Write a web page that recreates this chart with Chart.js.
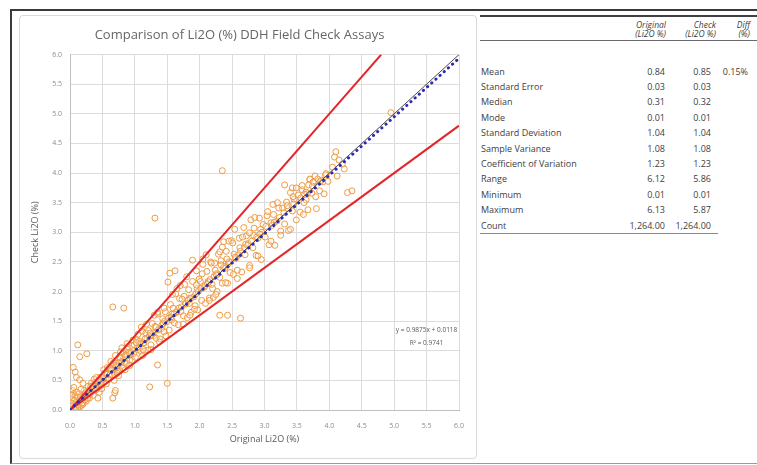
<!DOCTYPE html>
<html>
<head>
<meta charset="utf-8">
<title>Li2O DDH Field Check Assays</title>
<script src="https://cdn.jsdelivr.net/npm/chart.js@4.4.1/dist/chart.umd.min.js"></script>
<style>
  body { margin: 0; width: 757px; height: 465px; background: #fff; position: relative; overflow: hidden; font-family: "Open Sans", "Liberation Sans", Arial, sans-serif; color: #404040; }
  #frame { position: absolute; left: 10px; top: 9px; width: 747px; height: 452px; border-top: 2px solid #3a3a3a; border-left: 2px solid #3a3a3a; border-bottom: 1px solid #9a9a9a; }
  #chartBox { position: absolute; left: 19px; top: 15px; width: 456px; height: 442px; border: 1px solid #d9d9d9; border-radius: 4px; background: #fff; }
  .hline { position: absolute; }
  .cell { position: absolute; white-space: nowrap; font-size: 9px; }
  .head { position: absolute; white-space: nowrap; font-size: 8.5px; font-style: italic; line-height: 9px; text-align: right; }
</style>
</head>
<body>
<div id="frame"></div>
<div id="chartBox"><canvas id="assayChart"></canvas></div>

<script>
// scatter values (Original vs Check, Li2O %)
const originalLi2O = [
  0.01,0.02,0.02,0.03,0.04,0.05,0.05,0.06,0.07,0.08,
  0.09,0.10,0.11,0.11,0.12,0.13,0.14,0.15,0.16,0.17,
  0.18,0.19,0.20,0.21,0.22,0.23,0.24,0.25,0.26,0.27,
  0.28,0.29,0.30,0.03,0.05,0.04,0.08,0.10,0.07,0.12,
  0.06,0.02,0.15,0.18,0.12,0.20,0.22,0.25,0.14,0.28,
  0.30,0.17,0.12,0.15,0.26,0.08,0.05,0.10,0.15,0.20,
  0.01,0.03,0.06,0.09,0.13,0.16,0.19,0.23,0.27,0.02,
  0.31,0.32,0.34,0.35,0.36,0.38,0.39,0.40,0.42,0.43,
  0.44,0.46,0.47,0.48,0.50,0.51,0.53,0.54,0.55,0.57,
  0.58,0.59,0.60,0.33,0.37,0.41,0.45,0.49,0.52,0.56,
  0.58,0.36,0.43,0.69,0.66,0.70,0.32,0.46,0.51,0.40,
  0.45,0.52,0.57,0.62,0.67,0.73,0.82,0.91,0.35,0.48,
  0.61,0.62,0.64,0.65,0.66,0.68,0.69,0.71,0.72,0.74,
  0.75,0.77,0.78,0.80,0.81,0.83,0.84,0.86,0.87,0.89,
  0.90,0.92,0.93,0.95,0.96,0.98,0.99,0.63,0.70,0.75,
  0.80,0.85,0.88,0.92,0.97,0.68,0.78,0.66,0.83,0.73,
  0.62,0.79,0.85,0.94,0.71,0.88,0.64,0.76,
  1.01,1.03,1.05,1.07,1.09,1.11,1.13,1.15,1.17,1.19,
  1.21,1.23,1.25,1.27,1.29,1.31,1.33,1.35,1.37,1.39,
  1.41,1.43,1.45,1.47,1.49,1.05,1.12,1.18,1.25,1.30,
  1.38,1.45,1.48,1.10,1.35,1.23,1.35,1.20,1.50,1.31,
  1.04,1.14,1.22,1.28,1.36,1.42,1.08,1.26,1.44,1.16,
  1.02,1.13,1.24,1.33,1.46,1.57,1.68,1.76,1.84,1.96,
  1.52,1.53,1.55,1.57,1.59,1.61,1.63,1.65,1.67,1.69,
  1.71,1.73,1.75,1.77,1.79,1.81,1.83,1.85,1.87,1.89,
  1.91,1.93,1.95,1.97,1.99,1.54,1.62,1.51,1.58,1.70,
  1.89,1.75,1.85,1.95,1.65,1.80,1.92,1.56,1.64,1.72,
  1.78,1.86,1.94,1.60,1.82,1.98,
  2.01,2.03,2.05,2.07,2.09,2.11,2.13,2.15,2.17,2.19,
  2.21,2.23,2.25,2.27,2.29,2.31,2.33,2.35,2.37,2.39,
  2.41,2.43,2.45,2.47,2.49,2.18,2.31,2.05,2.10,2.25,
  2.40,2.15,2.45,2.35,2.20,2.31,2.43,2.63,2.35,2.08,
  2.14,2.22,2.28,2.36,2.44,2.12,2.26,2.38,2.02,2.46,
  2.04,2.16,2.24,2.33,2.42,2.53,2.62,2.71,2.83,2.94,
  2.52,2.54,2.56,2.58,2.61,2.63,2.65,2.68,2.70,2.72,
  2.75,2.77,2.79,2.82,2.84,2.87,2.90,2.92,2.95,2.98,
  2.51,2.66,2.77,2.69,2.77,2.58,2.90,2.85,2.60,2.74,
  2.80,2.88,2.96,2.55,2.93,
  3.01,3.04,3.07,3.10,3.13,3.16,3.19,3.22,3.25,3.28,
  3.31,3.34,3.37,3.40,3.43,3.46,3.49,3.31,3.43,3.49,
  3.10,3.25,3.40,3.20,3.05,3.15,3.30,3.45,3.12,3.36,
  3.02,3.14,3.23,3.35,3.44,3.58,3.68,3.78,3.90,3.64,
  3.52,3.55,3.58,3.61,3.64,3.67,3.70,3.73,3.76,3.79,
  3.82,3.85,3.88,3.92,3.95,3.98,3.70,3.75,3.60,3.80,
  3.56,3.66,3.74,3.86,3.94,3.62,
  4.10,4.08,4.15,4.23,4.28,4.05,4.12,4.20,4.35,4.95
];
const checkLi2O = [
  0.02,0.01,0.04,0.03,0.06,0.03,0.08,0.05,0.10,0.06,
  0.12,0.08,0.14,0.10,0.17,0.11,0.13,0.19,0.12,0.20,
  0.15,0.23,0.17,0.26,0.19,0.21,0.28,0.22,0.30,0.24,
  0.33,0.25,0.34,0.20,0.27,0.33,0.24,0.30,0.16,0.22,
  0.38,0.12,0.05,0.08,0.04,0.10,0.33,0.15,0.28,0.40,
  0.20,0.35,1.10,0.90,0.95,0.64,0.72,0.55,0.51,0.45,
  0.00,0.07,0.02,0.04,0.08,0.22,0.12,0.17,0.20,0.25,
  0.32,0.28,0.39,0.34,0.39,0.35,0.47,0.40,0.36,0.48,
  0.40,0.55,0.47,0.41,0.56,0.52,0.47,0.62,0.53,0.62,
  0.54,0.69,0.52,0.45,0.52,0.55,0.30,0.36,0.68,0.44,
  0.72,0.25,0.20,0.29,0.20,0.33,0.40,0.47,0.54,0.34,
  0.50,0.58,0.60,0.70,0.64,0.80,0.86,0.96,0.41,0.44,
  0.70,0.60,0.69,0.59,0.79,0.68,0.59,0.79,0.73,0.65,
  0.75,0.66,0.87,0.82,0.71,0.95,0.81,0.93,0.79,1.07,
  0.97,0.84,0.95,1.09,0.84,0.95,1.10,0.82,0.92,0.58,
  1.05,0.68,1.12,0.75,1.18,0.50,0.98,1.74,1.72,0.62,
  0.71,0.80,0.90,0.97,0.75,0.92,0.67,0.79,
  0.89,1.18,1.02,1.16,0.99,1.33,1.13,0.99,1.30,1.21,
  1.34,1.25,1.10,1.46,1.25,1.41,1.21,1.62,1.37,1.20,
  1.37,1.54,1.32,1.66,1.49,1.28,0.92,1.45,1.02,1.60,
  1.15,1.72,1.25,1.40,1.65,0.39,0.76,1.01,0.45,3.24,
  1.05,1.13,1.24,1.30,1.35,1.44,1.12,1.27,1.46,1.20,
  1.14,1.02,1.30,1.40,1.50,1.62,1.72,1.92,1.80,2.05,
  1.55,1.35,1.78,1.52,1.72,1.47,1.96,1.65,1.44,1.88,
  1.66,1.87,1.59,2.12,1.79,1.56,2.03,1.89,1.65,2.17,
  1.91,1.76,2.11,1.69,2.21,2.31,2.35,2.16,1.95,2.10,
  2.53,1.45,1.60,2.35,2.05,2.25,1.70,1.57,1.66,1.74,
  1.80,1.88,1.96,1.62,1.85,2.00,
  2.17,1.85,2.46,2.07,1.80,2.34,2.17,1.89,2.50,2.12,
  1.90,2.48,2.30,2.00,2.63,2.24,2.52,2.14,2.84,2.39,
  2.68,2.14,2.50,2.32,2.86,2.48,2.67,2.55,2.62,1.95,
  2.15,1.85,2.85,2.75,2.05,1.60,1.60,1.55,4.04,2.10,
  2.16,2.25,2.30,2.40,2.47,2.13,2.28,2.42,2.05,2.50,
  2.30,2.20,2.36,2.45,2.55,2.63,2.74,2.80,2.95,3.05,
  2.29,3.05,2.56,2.22,2.90,2.68,2.33,3.08,2.62,2.94,
  2.81,2.44,3.21,2.74,3.07,2.61,2.90,3.24,2.54,3.13,
  2.82,2.92,2.99,2.74,2.40,2.36,2.60,3.25,2.62,2.78,
  2.85,2.92,3.00,2.58,2.97,
  2.92,3.28,2.79,3.16,3.47,2.78,3.19,3.41,3.02,3.41,
  3.14,3.51,3.03,3.67,3.36,3.56,3.21,3.80,3.75,3.75,
  2.85,2.95,3.05,3.50,3.35,3.17,3.33,3.48,3.12,3.40,
  3.10,3.30,3.25,3.45,3.60,3.72,3.80,3.95,3.85,3.55,
  3.63,3.34,3.79,3.50,3.68,3.38,3.89,3.66,3.84,3.60,
  3.90,3.70,3.88,3.65,3.99,3.86,3.90,3.85,3.30,3.40,
  3.58,3.65,3.78,3.86,3.97,3.64,
  4.36,4.27,4.22,4.07,3.67,4.10,3.95,4.15,3.70,5.02
];

// reference lines
const oneToOneX = [0, 6];
const oneToOneY = [0, 6];
const upperLimitX = [0, 4.8];   // +25%
const upperLimitY = [0, 6];
const lowerLimitX = [0, 6];     // -20%
const lowerLimitY = [0, 4.8];
const trendX = [0, 6];
const trendSlope = 0.9875;
const trendIntercept = 0.0118;
const trendText = 'y = 0.9875x + 0.0118';
const r2Text = 'R² = 0.9741';

const chartTitle = 'Comparison of Li2O (%) DDH Field Check Assays';

// stats table
const statLabels = ['Mean', 'Standard Error', 'Median', 'Mode', 'Standard Deviation', 'Sample Variance',
  'Coefficient of Variation', 'Range', 'Minimum', 'Maximum', 'Count'];
const originalStats = ['0.84', '0.03', '0.31', '0.01', '1.04', '1.08', '1.23', '6.12', '0.01', '6.13', '1,264.00'];
const checkStats = ['0.85', '0.03', '0.32', '0.01', '1.04', '1.08', '1.23', '5.86', '0.01', '5.87', '1,264.00'];
const diffStats = ['0.15%', '', '', '', '', '', '', '', '', '', ''];

function toPoints(xs, ys) {
  return xs.map((x, i) => ({ x: x, y: ys[i] }));
}

const trendLabel = {
  id: 'trendLabel',
  afterDatasetsDraw(chart) {
    const { ctx, scales: { x, y } } = chart;
    ctx.save();
    ctx.font = '6.5px "Open Sans", sans-serif';
    ctx.fillStyle = '#595959';
    ctx.textAlign = 'center';
    ctx.textBaseline = 'middle';
    ctx.fillText(trendText, x.getPixelForValue(5.5), y.getPixelForValue(1.35));
    ctx.fillText(r2Text, x.getPixelForValue(5.5), y.getPixelForValue(1.13));
    ctx.restore();
  }
};

Chart.defaults.font.family = '"Open Sans", "Liberation Sans", sans-serif';

new Chart(document.getElementById('assayChart'), {
  type: 'scatter',
  data: {
    datasets: [
      {
        type: 'line',
        label: 'Linear trend',
        data: trendX.map(x => ({ x: x, y: trendSlope * x + trendIntercept })),
        borderColor: '#2a2ab2',
        borderWidth: 3,
        borderDash: [0.1, 5.5],
        borderCapStyle: 'round',
        pointRadius: 0,
        fill: false,
        order: 0
      },
      {
        type: 'line',
        label: '1:1',
        data: toPoints(oneToOneX, oneToOneY),
        borderColor: '#4a4a4a',
        borderWidth: 1,
        pointRadius: 0,
        fill: false,
        order: 1
      },
      {
        type: 'line',
        label: '+25%',
        data: toPoints(upperLimitX, upperLimitY),
        borderColor: '#e3262c',
        borderWidth: 2,
        pointRadius: 0,
        fill: false,
        order: 2
      },
      {
        type: 'line',
        label: '-20%',
        data: toPoints(lowerLimitX, lowerLimitY),
        borderColor: '#e3262c',
        borderWidth: 2,
        pointRadius: 0,
        fill: false,
        order: 2
      },
      {
        label: 'Assays',
        data: toPoints(originalLi2O, checkLi2O),
        pointRadius: 3,
        pointBorderWidth: 1,
        borderColor: '#ee9a42',
        backgroundColor: 'rgba(255,255,255,0.25)',
        order: 3
      }
    ]
  },
  options: {
    responsive: true,
    maintainAspectRatio: false,
    animation: false,
    layout: { padding: { left: 0, right: 17, top: 0, bottom: 0 } },
    plugins: {
      legend: { display: false },
      tooltip: { enabled: false },
      title: {
        display: true,
        text: chartTitle,
        color: '#666666',
        font: { size: 13, weight: 'normal' },
        padding: { top: 11, bottom: 12 }
      }
    },
    scales: {
      x: {
        type: 'linear',
        min: 0,
        max: 6,
        ticks: { stepSize: 0.5, padding: 12, color: '#8c8c8c', font: { size: 7 }, maxRotation: 0, autoSkip: false,
          callback: v => v.toFixed(1) },
        grid: { color: '#dcdcdc', drawTicks: false },
        border: { color: '#bfbfbf' },
        title: { display: true, text: 'Original Li2O (%)', color: '#595959', font: { size: 9 }, padding: { top: 0, bottom: 13 } },
        afterFit: s => { s.height = 48; }
      },
      y: {
        min: 0,
        max: 6,
        ticks: { stepSize: 0.5, padding: 8, color: '#8c8c8c', font: { size: 7 }, autoSkip: false,
          callback: v => v.toFixed(1) },
        grid: { color: '#dcdcdc', drawTicks: false },
        border: { color: '#bfbfbf' },
        title: { display: true, text: 'Check Li2O (%)', color: '#595959', font: { size: 9 }, padding: { top: 10, bottom: 0 } },
        afterFit: s => { s.width = 50; }
      }
    }
  },
  plugins: [trendLabel]
});

// table on the right
function addLine(top, left, width, h, color) {
  const d = document.createElement('div');
  d.className = 'hline';
  d.style.cssText = `top:${top}px;left:${left}px;width:${width}px;height:${h}px;background:${color};`;
  document.body.appendChild(d);
}
function addText(cls, html, top, left, width, align) {
  const d = document.createElement('div');
  d.className = cls;
  d.innerHTML = html;
  d.style.top = top + 'px';
  d.style.left = left + 'px';
  d.style.width = width + 'px';
  d.style.textAlign = align;
  document.body.appendChild(d);
}

addLine(15, 480, 277, 2, '#404040');
addLine(40, 480, 277, 1, '#6a6a6a');
addLine(233, 480, 238, 1, '#8a8a8a');

addText('head', 'Original<br>(Li2O %)', 20, 606, 60, 'right');
addText('head', 'Check<br>(Li2O %)', 20, 656, 60, 'right');
addText('head', 'Diff<br>(%)', 20, 720, 30, 'right');

const rowTop = 63.5;
const rowH = 15.4;
statLabels.forEach((label, i) => {
  const top = rowTop + i * rowH;
  addText('cell', label, top, 481, 130, 'left');
  addText('cell', originalStats[i], top, 605, 60, 'right');
  addText('cell', checkStats[i], top, 651, 60, 'right');
  addText('cell', diffStats[i], top, 708, 40, 'right');
});
document.querySelectorAll('.cell').forEach(c => { c.style.lineHeight = rowH + 'px'; c.style.height = rowH + 'px'; });
</script>
</body>
</html>
